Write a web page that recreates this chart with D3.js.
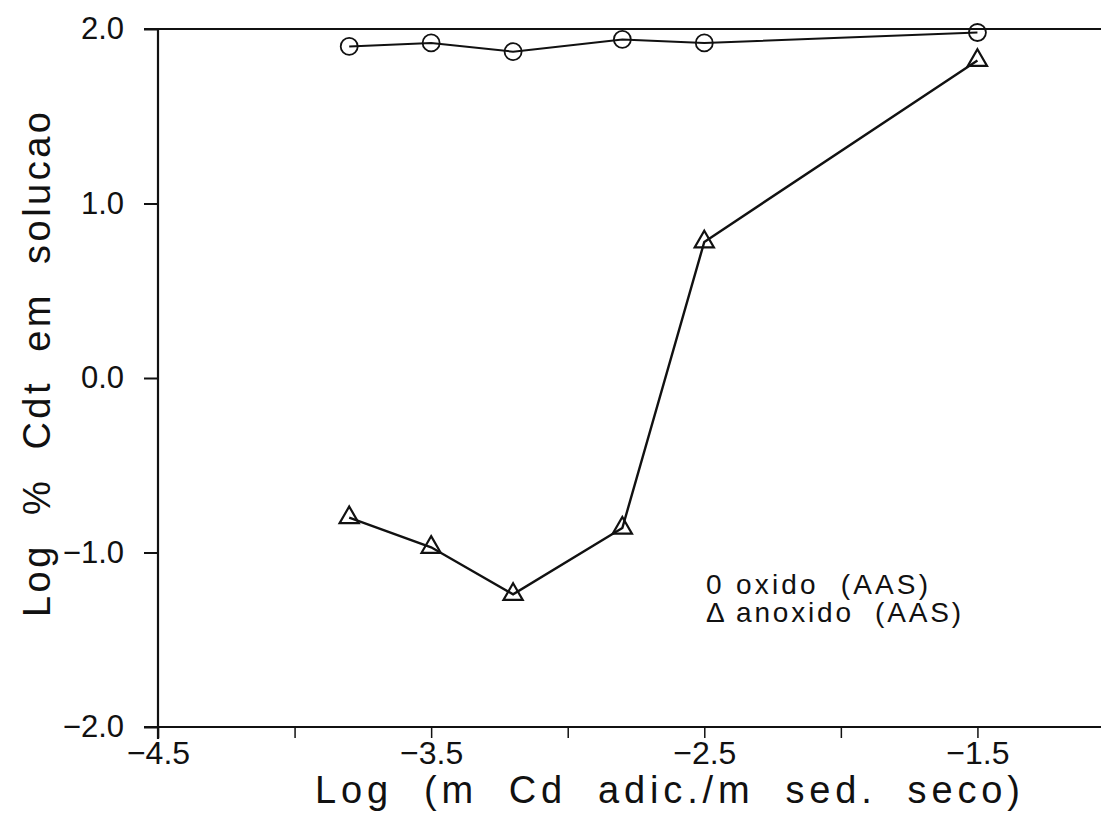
<!DOCTYPE html>
<html>
<head>
<meta charset="utf-8">
<script src="https://cdn.jsdelivr.net/npm/d3@7"></script>
<style>
  body { margin: 0; background: #fff; }
  svg text { font-family: "Liberation Sans", "DejaVu Sans", sans-serif; fill: #111; }
</style>
</head>
<body>
<div id="chart"></div>
<script>
// log of added Cd mass / dry sediment mass
const logAdded = [-3.8, -3.5, -3.2, -2.8, -2.5, -1.5];
// log % Cdt in solution
const oxido = [1.90, 1.92, 1.87, 1.94, 1.92, 1.98];
const anoxido = [-0.80, -0.97, -1.24, -0.86, 0.78, 1.82];

const xTicks = [-4.5, -4.0, -3.5, -3.0, -2.5, -2.0, -1.5, -1.0];
const xTickLabels = [-4.5, -3.5, -2.5, -1.5];
const yTicks = [2.0, 1.0, 0.0, -1.0, -2.0];

const legendSymbols = ['0', '\u0394'];
const legendItems = ['oxido  (AAS)', 'anoxido  (AAS)'];

const width = 1101, height = 819;

const svg = d3.select('#chart')
  .append('svg')
  .attr('width', width)
  .attr('height', height);

const x = d3.scaleLinear().domain([-4.5, -1.0]).range([158, 1114]);
const y = d3.scaleLinear().domain([-2, 2]).range([727, 29]);

const minus = d => d.toFixed(1).replace('-', '\u2212');

// x axis (bottom) - ticks point down, labels only on odd half steps
const xAxis = d3.axisBottom(x)
  .tickValues(xTicks)
  .tickSize(11)
  .tickFormat(d => xTickLabels.includes(d) ? minus(d) : '');

const gx = svg.append('g')
  .attr('transform', `translate(0,${y(-2)})`)
  .call(xAxis);
gx.select('.domain').remove();
gx.selectAll('.tick line').attr('stroke', '#111').attr('stroke-width', 1.5);
gx.selectAll('.tick text')
  .attr('font-size', 32)
  .attr('dy', '0.75em')
  .attr('y', 13);

// y axis (left)
const yAxis = d3.axisLeft(y)
  .tickValues(yTicks)
  .tickSize(14)
  .tickPadding(20)
  .tickFormat(minus);

const gy = svg.append('g')
  .attr('transform', `translate(${x(-4.5)},0)`)
  .call(yAxis);
gy.select('.domain').remove();
gy.selectAll('.tick line').attr('stroke', '#111').attr('stroke-width', 2);
gy.selectAll('.tick text').attr('font-size', 31);

// frame lines: left, top, bottom
const frame = svg.append('g').attr('stroke', '#111').attr('stroke-width', 2.2);
frame.append('line')
  .attr('x1', x(-4.5)).attr('x2', x(-4.5))
  .attr('y1', y(2)).attr('y2', y(-2) + 12);
frame.append('line')
  .attr('x1', x(-4.5) - 14).attr('x2', width)
  .attr('y1', y(2)).attr('y2', y(2));
frame.append('line')
  .attr('x1', x(-4.5) - 14).attr('x2', width)
  .attr('y1', y(-2)).attr('y2', y(-2));

// series
const line = d3.line()
  .x(d => x(d[0]))
  .y(d => y(d[1]));

const oxData = logAdded.map((v, i) => [v, oxido[i]]);
const anData = logAdded.map((v, i) => [v, anoxido[i]]);

svg.append('path')
  .datum(oxData)
  .attr('d', line)
  .attr('fill', 'none')
  .attr('stroke', '#111')
  .attr('stroke-width', 2);

svg.append('path')
  .datum(anData)
  .attr('d', line)
  .attr('fill', 'none')
  .attr('stroke', '#111')
  .attr('stroke-width', 2.4);

svg.append('g')
  .selectAll('circle')
  .data(oxData)
  .enter()
  .append('circle')
  .attr('cx', d => x(d[0]))
  .attr('cy', d => y(d[1]))
  .attr('r', 8.5)
  .attr('fill', 'none')
  .attr('stroke', '#111')
  .attr('stroke-width', 1.8);

const tri = d3.symbol().type(d3.symbolTriangle).size(160);
svg.append('g')
  .selectAll('path')
  .data(anData)
  .enter()
  .append('path')
  .attr('d', tri)
  .attr('transform', d => `translate(${x(d[0])},${y(d[1])})`)
  .attr('fill', 'none')
  .attr('stroke', '#111')
  .attr('stroke-width', 2.2);

// legend
const legendLens = [192, 225];
const legend = svg.append('g').attr('transform', 'translate(706,0)');
legend.selectAll('text.sym')
  .data(legendSymbols)
  .enter()
  .append('text')
  .attr('class', 'sym')
  .attr('x', 0)
  .attr('y', (d, i) => 594 + i * 28)
  .attr('font-size', 28)
  .text(d => d);
legend.selectAll('text.item')
  .data(legendItems)
  .enter()
  .append('text')
  .attr('class', 'item')
  .attr('x', 30)
  .attr('y', (d, i) => 594 + i * 28)
  .attr('font-size', 28)
  .attr('textLength', (d, i) => legendLens[i])
  .attr('lengthAdjust', 'spacing')
  .style('white-space', 'pre')
  .text(d => d);

// axis titles
svg.append('text')
  .attr('x', 315)
  .attr('y', 803)
  .attr('font-size', 38)
  .attr('textLength', 705)
  .attr('lengthAdjust', 'spacing')
  .style('white-space', 'pre')
  .text('Log  (m  Cd  adic./m  sed.  seco)');

svg.append('text')
  .attr('transform', 'translate(50,617) rotate(-90)')
  .attr('font-size', 38)
  .attr('textLength', 505)
  .attr('lengthAdjust', 'spacing')
  .style('white-space', 'pre')
  .text('Log  %  Cdt  em  solucao');
</script>
</body>
</html>
